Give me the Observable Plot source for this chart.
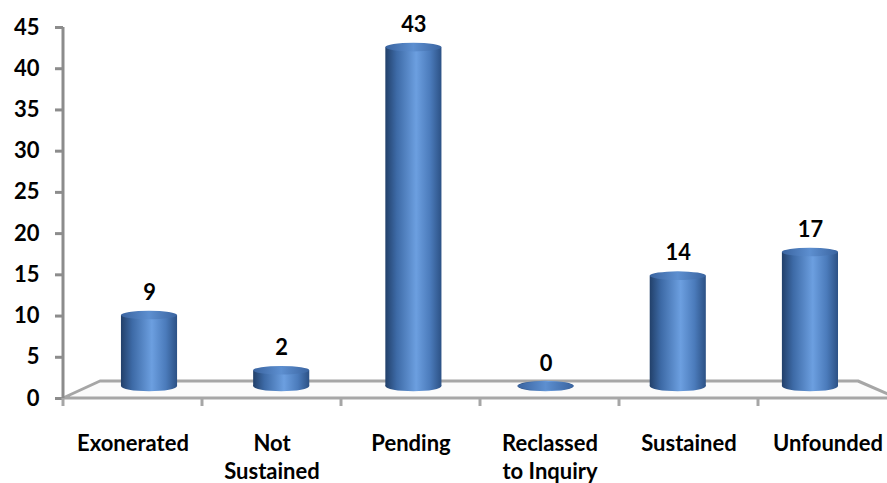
<!DOCTYPE html>
<html><head><meta charset="utf-8">
<script src="https://cdn.jsdelivr.net/npm/d3@7"></script>
<script src="https://cdn.jsdelivr.net/npm/@observablehq/plot@0.6"></script>
<style>body{margin:0;background:#fff} #chart{width:887px;height:483px;overflow:hidden}</style>
</head><body><div id="chart"></div>
<script>
const categories = ["Exonerated", "Not Sustained", "Pending", "Reclassed to Inquiry", "Sustained", "Unfounded"];
const counts = [9, 2, 43, 0, 14, 17];
const categoryLabels = ["Exonerated", "Not\nSustained", "Pending", "Reclassed\nto Inquiry", "Sustained", "Unfounded"];
const yTicks = [0, 5, 10, 15, 20, 25, 30, 35, 40, 45];

const data = categories.map((c, i) => ({category: c, count: counts[i], label: categoryLabels[i]}));
const labelOf = new Map(data.map(d => [d.category, d.label]));

const font = "Lato, 'Open Sans', sans-serif";
const plot = Plot.plot({
  width: 887, height: 483,
  marginLeft: 63, marginRight: 0, marginTop: 27, marginBottom: 85,
  style: {fontFamily: font, fontWeight: 700, fontSize: "22px", color: "#000", background: "#fff", overflow: "hidden"},
  x: {domain: categories, range: [63, 897], paddingInner: 0.576, paddingOuter: 0.288, axis: null},
  y: {domain: [0, 45], axis: null},
  marks: [
    Plot.axisY({ticks: yTicks, tickSize: 8, tickPadding: 16, stroke: "#8c8c8c", strokeWidth: 3, fontSize: 22, fontWeight: 700, label: null}),
    Plot.axisX({tickSize: 0, tickPadding: 32, tickFormat: d => labelOf.get(d), fontSize: 22, fontWeight: 700, label: null, lineHeight: 1.3}),
    Plot.barY(data, {x: "category", y: "count", fill: "url(#cyl)"}),
    Plot.text(data, {x: "category", y: "count", text: d => String(d.count), dy: -24, fontSize: 23, fontWeight: 700, fill: "#000"})
  ]
});
document.getElementById("chart").appendChild(plot);

// 3D decoration derived from the scales
const svg = d3.select(plot);
const xs = plot.scale("x"), ys = plot.scale("y");
const [r0, r1] = xs.range;
const step = xs.step, bw = xs.bandwidth;
const y0 = ys.apply(0), yTop = ys.apply(45);
const depthX = 37, depthY = 17;
// perspective: bars stand in the middle of the floor depth
const sx = 0.951, sy = 0.956, floorMid = y0 - 12;
const persp = `translate(23,${(floorMid - sy * y0).toFixed(2)}) scale(${sx},${sy})`;
const gray = "#a6a6a6";
const addPersp = sel => sel.attr("transform", persp + " " + (sel.attr("transform") || ""));

const defs = svg.insert("defs", ":first-child");
const g1 = defs.append("linearGradient").attr("id", "cyl").attr("x1", 0).attr("x2", 1).attr("y1", 0).attr("y2", 0);
[[0, "#22406a"], [0.2, "#3d6aa6"], [0.55, "#6c9fe0"], [0.8, "#4b7bbb"], [1, "#2c5185"]].forEach(([o, c]) => g1.append("stop").attr("offset", o).attr("stop-color", c));
const g2 = defs.append("linearGradient").attr("id", "cap").attr("x1", 0).attr("x2", 1).attr("y1", 0).attr("y2", 0);
[[0, "#3a64a0"], [0.5, "#5d8fd0"], [1, "#3a64a0"]].forEach(([o, c]) => g2.append("stop").attr("offset", o).attr("stop-color", c));

// floor
const floor = svg.insert("g", "g[aria-label=bar]");
floor.append("path")
  .attr("d", `M${r0},${y0} L${r0 + depthX},${y0 - depthY} L${r1 - depthX - 2},${y0 - depthY} L${r1},${y0} Z`)
  .attr("fill", "#fbfbfb").attr("stroke", gray).attr("stroke-width", 3).attr("stroke-linejoin", "round");
floor.append("line").attr("x1", r0).attr("x2", r0).attr("y1", yTop).attr("y2", y0)
  .attr("stroke", "#8c8c8c").attr("stroke-width", 3);
for (let i = 0; i <= categories.length; i++) {
  const xx = r0 + i * step;
  floor.append("line").attr("x1", xx).attr("x2", xx).attr("y1", y0).attr("y2", y0 + 8)
    .attr("stroke", gray).attr("stroke-width", 3);
}

// cylinders: base and caps
addPersp(svg.select("g[aria-label=bar]"));
const base = svg.insert("g", "g[aria-label=bar]").attr("transform", persp);
const caps = svg.insert("g", "g[aria-label=text]").attr("transform", persp);
data.forEach(d => {
  const cx = xs.apply(d.category) + bw / 2;
  base.append("ellipse").attr("cx", cx).attr("cy", y0).attr("rx", bw / 2).attr("ry", 5.5).attr("fill", "url(#cyl)");
  caps.append("ellipse").attr("cx", cx).attr("cy", ys.apply(d.count)).attr("rx", bw / 2).attr("ry", 4.5).attr("fill", "url(#cap)");
});
addPersp(svg.select("g[aria-label=text]"));
svg.selectAll("g[aria-label='y-axis tick label'] text, g[aria-label='x-axis tick label'] text").attr("fill", "#000");
</script>
</body></html>
